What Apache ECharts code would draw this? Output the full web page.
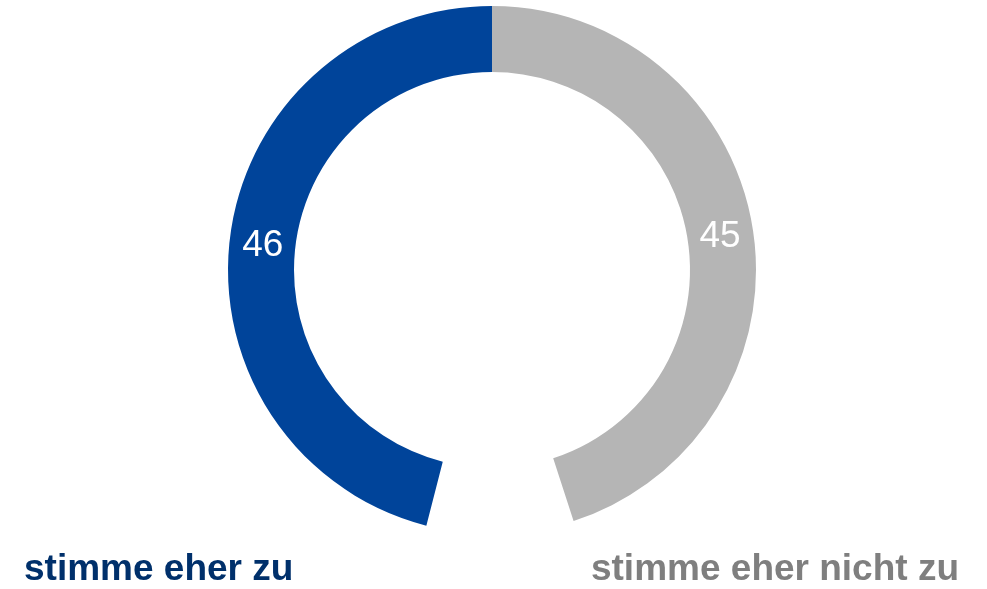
<!DOCTYPE html>
<html><head><meta charset="utf-8">
<script src="https://cdn.jsdelivr.net/npm/echarts@6/dist/echarts.min.js"></script>
<style>html,body{margin:0;padding:0;background:#fff}#c{width:987px;height:589px}</style>
</head><body><div id="c"></div>
<script>
const categories = ['stimme eher nicht zu', 'Rest', 'stimme eher zu'];
const values = [45, 9, 46];
const colors = ['#B5B5B5', 'rgba(0,0,0,0)', '#00449A'];
const labelColors = ['#7F7F7F', null, '#00306B'];
const labelOffsets = [[-3, 3], [0, 0], [3, 5]];

const chart = echarts.init(document.getElementById('c'), null, {renderer: 'canvas'});
chart.setOption({
  animation: false,
  series: [{
    type: 'pie',
    center: [492, 270],
    radius: [198, 264],
    startAngle: 90,
    clockwise: true,
    silent: true,
    label: {
      show: true, position: 'inside', color: '#fff',
      fontFamily: 'Liberation Sans, Arial, sans-serif', fontSize: 37,
      formatter: p => p.dataIndex === 1 ? '' : String(p.value)
    },
    labelLine: {show: false},
    data: categories.map((c, i) => ({name: c, value: values[i], itemStyle: {color: colors[i]}, label: {offset: labelOffsets[i]}}))
  }],
  graphic: [
    {type: 'text', left: 24, top: 551, style: {text: categories[2], fill: labelColors[2], font: 'bold 37px "Liberation Sans", Arial, sans-serif'}},
    {type: 'text', right: 28, top: 551, style: {text: categories[0], fill: labelColors[0], font: 'bold 37px "Liberation Sans", Arial, sans-serif'}}
  ]
});
</script></body></html>
